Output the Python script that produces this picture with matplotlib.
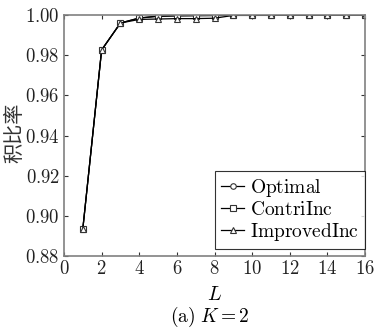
import matplotlib
matplotlib.use("Agg")
import matplotlib.pyplot as plt

plt.rcParams["mathtext.fontset"] = "cm"
plt.rcParams["font.family"] = ["DejaVu Serif"]

L = list(range(1, 17))
optimal = [0.8935, 0.9826, 0.9960, 0.9985, 0.9995, 0.9998, 0.9998, 0.9999,
           0.9999, 0.9999, 0.9999, 1.0000, 1.0000, 1.0000, 1.0000, 1.0000]
contri = [0.8935, 0.9826, 0.9960, 0.9985, 0.9993, 0.9995, 0.9996, 0.9997,
          0.9998, 0.9998, 0.9998, 0.9999, 0.9999, 1.0000, 1.0000, 1.0000]
improved = [0.8935, 0.9826, 0.9960, 0.9978, 0.9980, 0.9982, 0.9982, 0.9984,
            0.9998, 0.9998, 0.9999, 0.9999, 0.9999, 1.0000, 1.0000, 1.0000]
xticks = list(range(0, 17, 2))
yticks = [0.88, 0.90, 0.92, 0.94, 0.96, 0.98, 1.00]

fig = plt.figure(figsize=(3.74, 3.30), dpi=100)
ax = fig.add_axes([64 / 374, 1 - 256 / 330, 301 / 374, 241 / 330])

mk = dict(markersize=4, markerfacecolor="white", markeredgecolor="#333333",
          markeredgewidth=0.8, linewidth=0.9, color="black")
ax.plot(L, optimal, marker="o", label=r"$\mathrm{Optimal}$", **mk)
ax.plot(L, contri, marker="s", label=r"$\mathrm{ContriInc}$", **mk)
ax.plot(L, improved, marker="^", label=r"$\mathrm{ImprovedInc}$", **mk)

ax.set_xlim(0, 16)
ax.set_ylim(0.88, 1.00)
ax.set_xticks(xticks)
ax.set_xticklabels([rf"${t}$" for t in xticks], fontsize=13.5, color="#222222")
ax.set_yticks(yticks)
ax.set_yticklabels([rf"${t:.2f}$" for t in yticks], fontsize=13.5, color="#222222")
ax.tick_params(direction="in", length=3, width=0.8, color="#333333", pad=3,
               top=True, right=True)
for s in ax.spines.values():
    s.set_color("#808080")
    s.set_linewidth(1.2)

ax.set_xlabel(r"$L$", fontsize=14.5, labelpad=5)
# y label placed by hand so it stays inside the figure
fig.text(15 / 374, 1 - 133 / 330, "积比率", rotation=90, ha="center", va="center",
         fontsize=14.5, family=["Noto Sans CJK SC"], color="#333333")
fig.text(210 / 374, 1 - 317 / 330, r"$\mathrm{(a)}\ K{=}2$",
         ha="center", va="center", fontsize=14)

leg = ax.legend(loc="lower right", bbox_to_anchor=(1.0, 7 / 241), fontsize=14,
                frameon=True, fancybox=False, edgecolor="black",
                handlelength=1.2, handletextpad=0.3, borderpad=0.3,
                labelspacing=0.1, borderaxespad=0.0)
leg.get_frame().set_linewidth(0.8)

fig.savefig("out.png", dpi=100)
